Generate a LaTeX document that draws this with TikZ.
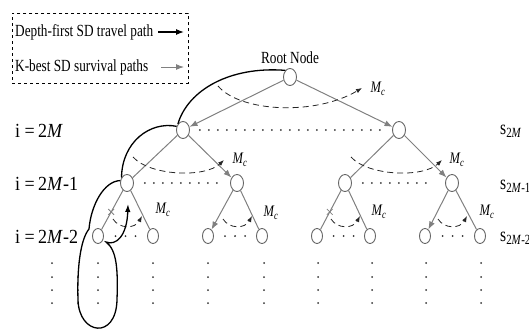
\documentclass[tikz,border=0pt]{standalone}
\usepackage{fontspec}
\setmainfont[FakeStretch=0.78]{Liberation Serif}
\newfontfamily\lblfont[FakeStretch=0.9]{Liberation Serif}
\usetikzlibrary{arrows.meta,shapes.geometric,shapes.misc}
\newcommand{\Mcl}{\textit{M}\textsubscript{\kern-0.5pt\textit{c}}}
\begin{document}
\begin{tikzpicture}[x=1pt,y=-1pt,
  nd/.style={ellipse, draw=gray!80!black, line width=0.9pt, fill=white, inner sep=0pt, minimum width=13pt, minimum height=17pt},
  lf/.style={nd, minimum width=11pt, minimum height=15pt},
  gedge/.style={draw=black!50, line width=1pt},
  garrow/.style={gedge, -{Latex[length=8pt,width=6pt]}},
  dfs/.style={draw=black, line width=1.3pt},
  darc/.style={draw=black!85, line width=0.8pt, dash pattern=on 6pt off 4pt, -{Latex[length=6pt,width=4.5pt]}},
  dotrow/.style={draw=black!80, line width=2pt, line cap=round, dash pattern=on 0pt off 9pt},
  dotpt/.style={circle, fill=black!80, inner sep=0pt, minimum size=2pt},
  txt/.style={font=\fontsize{17}{19}\selectfont, inner sep=0pt},
  mc/.style={font=\fontsize{16}{18}\selectfont, inner sep=0pt},
  ilbl/.style={font=\lblfont\fontsize{20}{22}\selectfont, inner sep=0pt, anchor=west},
  slbl/.style={font=\fontsize{20}{22}\selectfont, inner sep=0pt, anchor=west},
  xmark/.style={cross out, draw=black!50, line width=0.8pt, minimum size=5pt, inner sep=0pt}
]
\useasboundingbox (0,0) rectangle (529,332);

% legend
\node[draw, dashed, line width=0.8pt, minimum width=176pt, minimum height=70pt, inner sep=0pt, anchor=north west] (legbox) at (12,13) {};
\node[txt, anchor=west] (lg1) at (15,32) {Depth-first SD travel path};
\node[txt, anchor=west] (lg2) at (15,67) {K-best SD survival paths};
\coordinate (la1) at (158,32); \coordinate (la2) at (184,32);
\coordinate (lb1) at (161,67); \coordinate (lb2) at (184,67);
\draw[dfs, -{Latex[length=8pt,width=6pt]}] (la1) -- (la2);
\draw[garrow] (lb1) -- (lb2);

% tree nodes
\node[nd] (root) at (290,77) {};
\node[txt] (rootlbl) at (290,58) {Root Node};
\node[nd] (a) at (183,130) {};
\node[nd] (b) at (399,130) {};
\node[nd] (a1) at (127,183) {};
\node[nd] (a2) at (237,183) {};
\node[nd] (b1) at (345,183) {};
\node[nd] (b2) at (452,183) {};
\node[lf] (l1) at (98,236) {};
\node[lf] (l2) at (153,236) {};
\node[lf] (l3) at (208,236) {};
\node[lf] (l4) at (262,236) {};
\node[lf] (l5) at (317,236) {};
\node[lf] (l6) at (370,236) {};
\node[lf] (l7) at (425,236) {};
\node[lf] (l8) at (480,236) {};

% gray edges
\draw[garrow] (root) -- (a);
\draw[garrow] (root) -- (b);
\draw[gedge] (a) -- (a1);
\draw[garrow] (a) -- (a2);
\draw[gedge] (b) -- (b1);
\draw[garrow] (b) -- (b2);
\draw[gedge] (a1) -- node[xmark, pos=0.55] (x1) {} (l1);
\draw[gedge] (a1) -- (l2);
\draw[garrow] (a2) -- (l3);
\draw[gedge] (a2) -- (l4);
\draw[gedge] (b1) -- node[xmark, pos=0.55] (x2) {} (l5);
\draw[gedge] (b1) -- (l6);
\draw[garrow] (b2) -- (l7);
\draw[gedge] (b2) -- (l8);

% dotted rows
\draw[dotrow] ([xshift=10pt]a.east) -- ([xshift=-9pt]b.west);
\draw[dotrow] ([xshift=11pt]a1.east) -- ([xshift=-11pt]a2.west);
\draw[dotrow] ([xshift=11pt]b1.east) -- ([xshift=-11pt]b2.west);
\foreach \c/\n in {125.5/p, 235/q, 343.5/r, 452.5/s}{
  \foreach \d/\m in {-10/1, 0/2, 10/3}{
    \node[dotpt] (h\n\m) at (\c+\d,236) {};
  }
}
\foreach \c/\n in {52/A, 98/B, 153/C, 208/D, 264/E, 318/F, 372/G, 426/H, 481/I}{
  \foreach \r/\m in {263/1, 277/2, 290/3, 303/4}{
    \node[dotpt] (v\n\m) at (\c,\r) {};
  }
}
\foreach \r/\m in {277/2, 290/3, 303/4}{
  \node[dotpt] (vz\m) at (78,\r) {};
}

% dashed M_c arcs
\coordinate (r0s) at (218,86); \coordinate (r0e) at (362,88);
\draw[darc] (r0s) .. controls (240,112) and (315,116) .. (r0e);
\coordinate (a0s) at (133,157); \coordinate (a0e) at (224,160);
\draw[darc] (a0s) .. controls (150,176) and (205,178) .. (a0e);
\coordinate (b0s) at (351,157); \coordinate (b0e) at (442,160);
\draw[darc] (b0s) .. controls (368,176) and (423,178) .. (b0e);
\coordinate (a1s) at (113,219); \coordinate (a1e) at (142,216);
\draw[darc] (a1s) .. controls (119,229) and (135,229) .. (a1e);
\coordinate (a2s) at (223,219); \coordinate (a2e) at (252,216);
\draw[darc] (a2s) .. controls (229,229) and (245,229) .. (a2e);
\coordinate (b1s) at (331,219); \coordinate (b1e) at (360,216);
\draw[darc] (b1s) .. controls (337,229) and (353,229) .. (b1e);
\coordinate (b2s) at (438,219); \coordinate (b2e) at (467,216);
\draw[darc] (b2s) .. controls (444,229) and (460,229) .. (b2e);

\node[mc] (mc0) at (378,89) {\Mcl};
\node[mc] (mc1) at (240,160) {\Mcl};
\node[mc] (mc2) at (457,160) {\Mcl};
\node[mc] (mc3) at (163,210) {\Mcl};
\node[mc] (mc4) at (271,213) {\Mcl};
\node[mc] (mc5) at (379,212) {\Mcl};
\node[mc] (mc6) at (487,212) {\Mcl};

% depth-first travel path
\coordinate (dfstip) at (128,204);
\draw[dfs] (root.125) .. controls (230,66) and (188,90) .. (a.130);
\draw[dfs] (a.150) .. controls (150,121) and (122,142) .. (a1.135);
\draw[dfs, -{Latex[length=8pt,width=5.5pt]}] (a1.160) .. controls (104,181) and (91,205) .. (89,229)
   .. controls (80,240) and (77,270) .. (78,300)
   .. controls (79,335) and (116,340) .. (117,300)
   .. controls (118,270) and (117,250) .. (106,242)
   .. controls (116,246) and (127,236) .. (dfstip);

% level labels
\node[ilbl] (i1) at (15,131) {i\ =\,2\textit{M}};
\node[ilbl] (i2) at (15,184) {i\ =\,2\textit{M}-1};
\node[ilbl] (i3) at (15,237) {i\ =\,2\textit{M}-2};
\node[slbl] (s1) at (500,131) {s\textsubscript{2\textit{M}}};
\node[slbl] (s2) at (500,186) {s\textsubscript{2\textit{M}-1}};
\node[slbl] (s3) at (500,238) {s\textsubscript{2\textit{M}-2}};
\end{tikzpicture}
\end{document}
